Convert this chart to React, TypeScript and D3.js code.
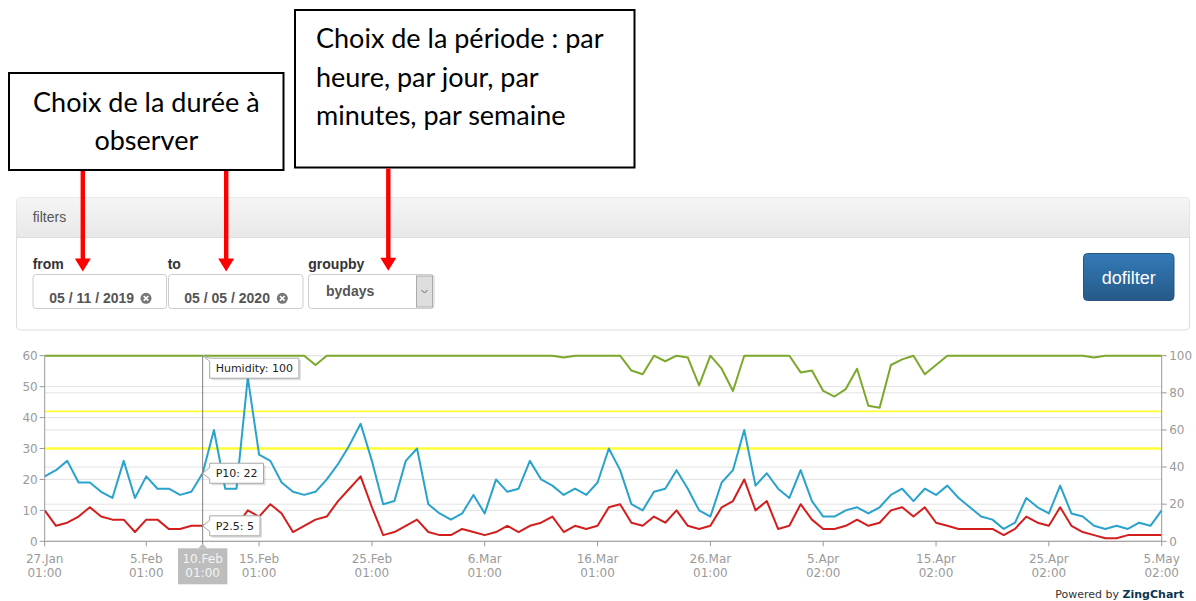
import React from 'react'
import * as d3 from 'd3'

const W = 1196
const H = 601

// daily values, 27 Jan -> 5 May 2020
const START_DATE = new Date(2020, 0, 27)

const P10 = [
  21, 23, 26, 19, 19, 16, 14, 26, 14, 21,
  17, 17, 15, 16, 22, 36, 17, 17, 53, 28,
  26, 19, 16, 15, 16, 20, 25, 31, 38, 26,
  12, 13, 26, 30, 12, 9, 7, 9, 15, 9,
  20, 16, 17, 26, 20, 18, 15, 17, 15, 19,
  30, 23, 12, 10, 16, 17, 23, 17, 10, 8,
  19, 23, 36, 18, 22, 17, 14, 23, 13, 8,
  8, 10, 11, 9, 11, 15, 17, 13, 17, 15,
  18, 14, 11, 8, 7, 4, 6, 14, 11, 9,
  18, 9, 8, 5, 4, 5, 4, 6, 5, 10,
]

const P25 = [
  10, 5, 6, 8, 11, 8, 7, 7, 3, 7,
  7, 4, 4, 5, 5, 6, 5, 5, 10, 8,
  12, 9, 3, 5, 7, 8, 13, 17, 21, 11,
  2, 3, 5, 7, 3, 2, 2, 4, 3, 2,
  3, 5, 3, 5, 6, 8, 3, 5, 4, 5,
  11, 12, 6, 5, 8, 6, 10, 5, 4, 5,
  11, 13, 20, 10, 13, 4, 5, 12, 7, 4,
  4, 5, 7, 5, 6, 10, 11, 8, 11, 6,
  5, 4, 4, 4, 4, 2, 4, 8, 6, 5,
  11, 5, 3, 2, 1, 1, 2, 2, 2, 2,
]

const HUMIDITY = [
  100, 100, 100, 100, 100, 100, 100, 100, 100, 100,
  100, 100, 100, 100, 100, 100, 100, 100, 100, 100,
  100, 100, 100, 100, 95, 100, 100, 100, 100, 100,
  100, 100, 100, 100, 100, 100, 100, 100, 100, 100,
  100, 100, 100, 100, 100, 100, 99, 100, 100, 100,
  100, 100, 92, 90, 100, 97, 100, 99, 84, 100,
  93, 81, 100, 100, 100, 100, 100, 91, 92, 81,
  78, 82, 93, 73, 72, 95, 98, 100, 90, 95,
  100, 100, 100, 100, 100, 100, 100, 100, 100, 100,
  100, 100, 100, 99, 100, 100, 100, 100, 100, 100,
]

const X_TICK_DAYS = ['27.Jan', '5.Feb', '15.Feb', '25.Feb', '6.Mar', '16.Mar', '26.Mar', '5.Apr', '15.Apr', '25.Apr', '5.May']
const X_TICK_HOURS = ['01:00', '01:00', '01:00', '01:00', '01:00', '01:00', '01:00', '02:00', '02:00', '02:00', '02:00']
const LEFT_TICKS = [0, 10, 20, 30, 40, 50, 60]
const RIGHT_TICKS = [0, 20, 40, 60, 80, 100]
const LIMITS = [50, 70] // yellow markers, right scale
const FOCUS_DAY = '10.Feb'
const FOCUS_HOUR = '01:00'

const BOX1_LINES = ['Choix de la durée à', 'observer']
const BOX2_LINES = ['Choix de la période : par', 'heure, par jour, par', 'minutes, par semaine']

const PLOT = { left: 44.7, right: 1161.7, top: 355.7, bottom: 541.3 }
const COLORS = { p10: '#29A2CC', p25: '#D31E1E', hum: '#7CA82B', limit: '#ffff33' }
const CHART_FONT = 'DejaVu Sans'
const UI_FONT = 'Liberation Sans, Arial, sans-serif'

const ctx = document.createElement('canvas').getContext('2d')
function measure(text, font) {
  if (!ctx) return text.length * 6.5
  ctx.font = font
  return ctx.measureText(text).width
}

function Arrow({ x, top, tip }) {
  return (<g fill="#ff0000">
    <rect x={x - 2.2} y={top} width={4.4} height={tip - top - 12} />
    <path d={`M${x - 8},${tip - 13} L${x + 8},${tip - 13} L${x},${tip} Z`} />
  </g>)
}

function ClearIcon({ cx, cy }) {
  return (<g>
    <circle cx={cx} cy={cy} r={5.5} fill="#777" />
    <path d={`M${cx - 2.3},${cy - 2.3} L${cx + 2.3},${cy + 2.3} M${cx + 2.3},${cy - 2.3} L${cx - 2.3},${cy + 2.3}`}
      stroke="#fff" strokeWidth={1.6} />
  </g>)
}

function Filters() {
  return (<g fontFamily={UI_FONT}>
    <rect x={16.5} y={197.5} width={1173} height={132.5} rx={4} fill="#fff" stroke="#ddd" />
    <path d="M16.5,237.5 V201.5 Q16.5,197.5 20.5,197.5 H1185.5 Q1189.5,197.5 1189.5,201.5 V237.5 Z"
      fill="url(#hdrGrad)" />
    <line x1={16.5} x2={1189.5} y1={237.5} y2={237.5} stroke="#ddd" />
    <text x={32.7} y={221.5} fontSize={14} fill="#555">filters</text>

    <text x={32.7} y={269} fontSize={14} fontWeight="bold" fill="#333">from</text>
    <text x={167.7} y={269} fontSize={14} fontWeight="bold" fill="#333">to</text>
    <text x={308.3} y={269} fontSize={14} fontWeight="bold" fill="#333">groupby</text>

    <rect x={33} y={274.5} width={133.5} height={34} rx={3} fill="#fff" stroke="#ccc" />
    <text x={49.3} y={303.3} fontSize={14} fontWeight="bold" fill="#555">05 / 11 / 2019</text>
    <ClearIcon cx={146} cy={298.3} />

    <rect x={168.5} y={274.5} width={134.5} height={34} rx={3} fill="#fff" stroke="#ccc" />
    <text x={184.3} y={303.3} fontSize={14} fontWeight="bold" fill="#555">05 / 05 / 2020</text>
    <ClearIcon cx={282.3} cy={298.3} />

    <rect x={308.5} y={274.5} width={125.5} height={34} rx={3} fill="#fff" stroke="#ccc" />
    <rect x={416.5} y={276} width={16} height={31} fill="#dedede" stroke="#aaa" />
    <path d="M421.5,290 L424.5,293 L427.5,290" fill="none" stroke="#666" strokeWidth={1} />
    <text x={326} y={295.5} fontSize={14} fontWeight="bold" fill="#555">bydays</text>

    <rect x={1083.5} y={253.5} width={90.5} height={47} rx={4} fill="url(#btnGrad)" stroke="#245580" />
    <text x={1128.7} y={283.5} fontSize={18} fill="#fff" textAnchor="middle">dofilter</text>
  </g>)
}

function Callouts() {
  return (<g fontFamily="Lato, sans-serif" fontSize={27} fill="#000">
    <rect x={9} y={73} width={274.5} height={97} fill="#fff" stroke="#000" strokeWidth={2} />
    {BOX1_LINES.map((t, i) => (
      <text key={t} x={146.3} y={111.7 + i * 38.3} textAnchor="middle">{t}</text>
    ))}
    <rect x={295} y={10} width={339.5} height={157.5} fill="#fff" stroke="#000" strokeWidth={2} />
    {BOX2_LINES.map((t, i) => (
      <text key={t} x={316} y={48.3 + i * 38.5}>{t}</text>
    ))}
  </g>)
}

function Arrows() {
  return (<g>
    <Arrow x={82.8} top={171} tip={271.5} />
    <Arrow x={226.2} top={171} tip={271.5} />
    <Arrow x={388.3} top={168.5} tip={270.7} />
  </g>)
}

function Chart() {
  const n = P10.length
  const dates = d3.range(n).map((i) => d3.timeDay.offset(START_DATE, i))
  const labels = dates.map(d3.timeFormat('%-d.%b'))

  const x = d3.scaleLinear().domain([0, n - 1]).range([PLOT.left, PLOT.right])
  const yL = d3.scaleLinear().domain([0, 60]).range([PLOT.bottom, PLOT.top])
  const yR = d3.scaleLinear().domain([0, 100]).range([PLOT.bottom, PLOT.top])

  const lineL = d3.line().x((_, i) => x(i)).y((d) => yL(d))
  const lineR = d3.line().x((_, i) => x(i)).y((d) => yR(d))

  const fi = labels.indexOf(FOCUS_DAY)
  const fx = x(fi)

  const tips = [
    { text: `Humidity: ${HUMIDITY[fi]}`, py: yR(HUMIDITY[fi]) },
    { text: `P10: ${P10[fi]}`, py: yL(P10[fi]) },
    { text: `P2.5: ${P25[fi]}`, py: yL(P25[fi]) },
  ]

  return (<g fontFamily={CHART_FONT}>
    {/* grid */}
    <g stroke="#e2e2e2" strokeWidth={1}>
      {LEFT_TICKS.map((t) => (
        <line key={'gl' + t} x1={PLOT.left} x2={PLOT.right} y1={yL(t)} y2={yL(t)} />
      ))}
      {RIGHT_TICKS.map((t) => (
        <line key={'gr' + t} x1={PLOT.left} x2={PLOT.right} y1={yR(t)} y2={yR(t)} />
      ))}
    </g>
    {LIMITS.map((v, i) => (
      <line key={'lim' + v} x1={PLOT.left} x2={PLOT.right} y1={yR(v)} y2={yR(v)}
        stroke={COLORS.limit} strokeWidth={i === 0 ? 2.5 : 1.6} />
    ))}

    {/* series */}
    <path d={lineL(P10)} fill="none" stroke={COLORS.p10} strokeWidth={2} strokeLinejoin="round" />
    <path d={lineL(P25)} fill="none" stroke={COLORS.p25} strokeWidth={2} strokeLinejoin="round" />
    <path d={lineR(HUMIDITY)} fill="none" stroke={COLORS.hum} strokeWidth={2} strokeLinejoin="round" />

    {/* axes */}
    <g stroke="#999" strokeWidth={1}>
      <line x1={PLOT.left} x2={PLOT.left} y1={PLOT.top} y2={PLOT.bottom} />
      <line x1={PLOT.right} x2={PLOT.right} y1={PLOT.top} y2={PLOT.bottom} />
      <line x1={PLOT.left} x2={PLOT.right} y1={PLOT.bottom} y2={PLOT.bottom} />
      {LEFT_TICKS.map((t) => (
        <line key={'tl' + t} x1={PLOT.left - 5} x2={PLOT.left} y1={yL(t)} y2={yL(t)} />
      ))}
      {RIGHT_TICKS.map((t) => (
        <line key={'tr' + t} x1={PLOT.right} x2={PLOT.right + 5} y1={yR(t)} y2={yR(t)} />
      ))}
      {X_TICK_DAYS.map((d) => {
        const i = labels.indexOf(d)
        return <line key={'tx' + d} x1={x(i)} x2={x(i)} y1={PLOT.bottom} y2={PLOT.bottom + 5} />
      })}
    </g>
    <g fontSize={12} fill="#9a9a9a">
      {LEFT_TICKS.map((t) => (
        <text key={'ll' + t} x={PLOT.left - 7} y={yL(t) + 4.3} textAnchor="end">{t}</text>
      ))}
      {RIGHT_TICKS.map((t) => (
        <text key={'lr' + t} x={PLOT.right + 7.5} y={yR(t) + 4.3}>{t}</text>
      ))}
      {X_TICK_DAYS.map((d, k) => {
        const i = labels.indexOf(d)
        return (<g key={'lx' + d}>
          <text x={x(i)} y={562.5} textAnchor="middle">{d}</text>
          <text x={x(i)} y={576.5} textAnchor="middle">{X_TICK_HOURS[k]}</text>
        </g>)
      })}
    </g>

    {/* crosshair */}
    <line x1={fx} x2={fx} y1={PLOT.top} y2={548} stroke="#808080" strokeWidth={1} />
    <path d={`M${fx - 4.5},548.3 L${fx},543.8 L${fx + 4.5},548.3 Z`} fill="#bdbdbd" />
    <rect x={fx - 24.7} y={548.3} width={49.4} height={36} fill="#bdbdbd" />
    <text x={fx} y={562.5} fontSize={12} fill="#f4f4f4" textAnchor="middle">{FOCUS_DAY}</text>
    <text x={fx} y={576.5} fontSize={12} fill="#f4f4f4" textAnchor="middle">{FOCUS_HOUR}</text>

    {tips.map((tip) => {
      const w = measure(tip.text, `11px ${CHART_FONT}`) + 12
      const h = 20
      const bx = fx + 7
      const by = Math.max(tip.py - h / 2, PLOT.top + 2.5)
      const t1 = Math.max(by, tip.py - 5.5)
      const t2 = Math.min(by + h, tip.py + 5.5)
      const d = `M${bx},${by} H${bx + w} V${by + h} H${bx} V${t2} L${fx},${tip.py} L${bx},${t1} Z`
      return (<g key={tip.text}>
        <path d={d} transform="translate(2,2)" fill="rgba(0,0,0,0.13)" />
        <path d={d} fill="#fff" stroke="#a8a8a8" strokeWidth={1} />
        <text x={bx + 6} y={by + h / 2 + 4} fontSize={11} fill="#222">{tip.text}</text>
      </g>)
    })}

    <text x={1184} y={598} fontSize={11} textAnchor="end" fill="#333">
      Powered by <tspan fontWeight="bold" fill="#0b3550">ZingChart</tspan>
    </text>
  </g>)
}

export default function App() {
  return (<svg width={W} height={H} viewBox={`0 0 ${W} ${H}`}
    style={{ position: 'absolute', left: 0, top: 0, background: '#fff' }}>
    <defs>
      <linearGradient id="hdrGrad" x1="0" x2="0" y1="0" y2="1">
        <stop offset="0" stopColor="#f5f5f5" />
        <stop offset="1" stopColor="#e8e8e8" />
      </linearGradient>
      <linearGradient id="btnGrad" x1="0" x2="0" y1="0" y2="1">
        <stop offset="0" stopColor="#337ab7" />
        <stop offset="1" stopColor="#265a88" />
      </linearGradient>
    </defs>
    <rect width={W} height={H} fill="#fff" />
    <Callouts />
    <Filters />
    <Chart />
    <Arrows />
  </svg>)
}
